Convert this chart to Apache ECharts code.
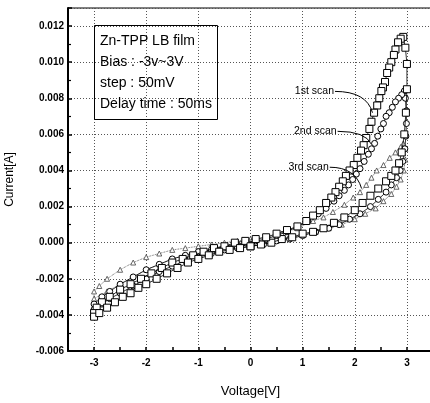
<!DOCTYPE html>
<html>
<head>
<meta charset="utf-8">
<script src="https://cdn.jsdelivr.net/npm/echarts@6/dist/echarts.min.js"></script>
<style>
  html, body { margin: 0; padding: 0; background: #fff; }
  #main { width: 430px; height: 403px; }
</style>
</head>
<body>
<div id="main"></div>
<script>
// 1st scan (squares): lower branch 0 -> 3 V, upper branch back, then the negative loop
const scan1V = [
  0.0, 0.2, 0.4, 0.6, 0.8, 1.0, 1.2, 1.4, 1.6, 1.8, 2.0, 2.15, 2.3, 2.45, 2.6, 2.7, 2.78, 2.85, 2.9, 2.95, 2.98, 3.0, 3.0, 2.97, 2.93,
  2.88, 2.83, 2.78, 2.75, 2.7, 2.66, 2.62, 2.58, 2.54, 2.51, 2.47, 2.43, 2.37, 2.32, 2.28, 2.22, 2.17, 2.12, 2.05, 1.98, 1.9, 1.83, 1.77, 1.7, 1.63, 1.55, 1.45, 1.33, 1.2, 1.07, 0.9, 0.7, 0.5, 0.3, 0.1,
  -0.1, -0.3, -0.5, -0.7, -0.9, -1.1, -1.3, -1.5, -1.7, -1.9, -2.1, -2.3, -2.5, -2.7, -2.85, -2.95, -3.0, -3.0,
  -2.9, -2.75, -2.6, -2.45, -2.3, -2.15, -2.0, -1.8, -1.6, -1.4, -1.2, -1.0, -0.8, -0.6, -0.4, -0.2, 0.0
];
const scan1I = [
  -0.0002, -0.0001, 0.0000, 0.0002, 0.0003, 0.0005, 0.0006, 0.0008, 0.0011, 0.0014, 0.0018, 0.0022, 0.0026, 0.0030, 0.0034, 0.0037, 0.0040, 0.0044, 0.0050, 0.0060, 0.0072, 0.0085, 0.0099, 0.0108, 0.0114,
  0.0113, 0.0111, 0.0107, 0.0104, 0.0100, 0.0097, 0.0094, 0.0089, 0.0086, 0.0084, 0.0080, 0.0076, 0.0072, 0.0067, 0.0063, 0.0058, 0.0054, 0.0051, 0.0047, 0.0043, 0.0040, 0.0037, 0.0034, 0.0031, 0.0028, 0.0025, 0.0022, 0.0018, 0.0015, 0.0012, 0.0009, 0.0007, 0.0005, 0.0003, 0.0002,
  0.0001, 0.0000, -0.0002, -0.0003, -0.0005, -0.0007, -0.0009, -0.0011, -0.0014, -0.0017, -0.0020, -0.0023, -0.0026, -0.0030, -0.0033, -0.0036, -0.0039, -0.0041,
  -0.0039, -0.0036, -0.0033, -0.0030, -0.0028, -0.0025, -0.0023, -0.0020, -0.0017, -0.0014, -0.0011, -0.0009, -0.0007, -0.0005, -0.0004, -0.0003, -0.0002
];

// 2nd scan (circles)
const scan2V = [
  0.0, 0.25, 0.5, 0.75, 1.0, 1.25, 1.5, 1.7, 1.9, 2.1, 2.3, 2.45, 2.6, 2.7, 2.8, 2.87, 2.92, 2.96, 2.98, 2.99, 2.99, 2.97, 2.95,
  2.9, 2.84, 2.78, 2.72, 2.66, 2.6, 2.55, 2.5, 2.44, 2.38, 2.32, 2.26, 2.18, 2.1, 2.03, 1.96, 1.88, 1.8, 1.7, 1.6, 1.45, 1.3, 1.1, 0.9, 0.7, 0.5, 0.3, 0.1,
  -0.1, -0.3, -0.5, -0.75, -1.0, -1.25, -1.5, -1.75, -2.0, -2.25, -2.5, -2.7, -2.85, -3.0, -3.0,
  -2.85, -2.7, -2.5, -2.25, -2.0, -1.75, -1.5, -1.25, -1.0, -0.75, -0.5, -0.25, 0.0
];
const scan2I = [
  -0.0002, -0.0001, 0.0001, 0.0002, 0.0004, 0.0006, 0.0008, 0.0010, 0.0013, 0.0016, 0.0020, 0.0024, 0.0028, 0.0032, 0.0036, 0.0040, 0.0045, 0.0052, 0.0059, 0.0066, 0.0073, 0.0080, 0.0084,
  0.0082, 0.0080, 0.0078, 0.0075, 0.0072, 0.0070, 0.0066, 0.0063, 0.0059, 0.0055, 0.0052, 0.0049, 0.0045, 0.0041, 0.0038, 0.0035, 0.0032, 0.0029, 0.0026, 0.0023, 0.0019, 0.0016, 0.0012, 0.0009, 0.0006, 0.0004, 0.0002, 0.0001,
  0.0000, -0.0001, -0.0002, -0.0004, -0.0005, -0.0007, -0.0009, -0.0012, -0.0015, -0.0019, -0.0023, -0.0027, -0.0030, -0.0034, -0.0037,
  -0.0034, -0.0031, -0.0028, -0.0024, -0.0020, -0.0016, -0.0013, -0.0010, -0.0008, -0.0006, -0.0004, -0.0003, -0.0002
];

// 3rd scan (small triangles)
const scan3V = [
  0.0, 0.25, 0.5, 0.75, 1.0, 1.25, 1.5, 1.75, 2.0, 2.2, 2.4, 2.55, 2.7, 2.8, 2.88, 2.94, 2.97, 2.97, 2.93,
  2.88, 2.78, 2.67, 2.55, 2.42, 2.32, 2.22, 2.1, 1.97, 1.8, 1.58, 1.4, 1.2, 0.9, 0.6, 0.3, 0.0,
  -0.25, -0.5, -0.75, -1.0, -1.25, -1.5, -1.75, -2.0, -2.25, -2.5, -2.75, -2.9, -3.0, -3.0,
  -2.75, -2.5, -2.25, -2.0, -1.75, -1.5, -1.25, -1.0, -0.75, -0.5, -0.25, 0.0
];
const scan3I = [
  -0.0001, 0.0000, 0.0001, 0.0003, 0.0004, 0.0006, 0.0008, 0.0010, 0.0013, 0.0016, 0.0019, 0.0023, 0.0027, 0.0031, 0.0035, 0.0040, 0.0046, 0.0052, 0.0055,
  0.0053, 0.0050, 0.0047, 0.0043, 0.0040, 0.0036, 0.0032, 0.0028, 0.0025, 0.0021, 0.0017, 0.0014, 0.0012, 0.0008, 0.0005, 0.0003, 0.0002,
  0.0001, 0.0000, -0.0001, -0.0002, -0.0003, -0.0004, -0.0006, -0.0008, -0.0011, -0.0015, -0.0020, -0.0024, -0.0027, -0.0031,
  -0.0027, -0.0023, -0.0019, -0.0015, -0.0012, -0.0009, -0.0007, -0.0005, -0.0003, -0.0002, -0.0001, -0.0001
];

const infoLines = ['Zn-TPP LB film', 'Bias : -3v~3V', 'step : 50mV', 'Delay time : 50ms'];
const scanNames = ['1st scan', '2nd scan', '3rd scan'];

const pairs = (xs, ys) => xs.map((x, i) => [x, ys[i]]);
const FONT = 'Liberation Sans, Arial, sans-serif';

const chartDom = document.getElementById('main');
const myChart = echarts.init(chartDom);

const option = {
  animation: false,
  backgroundColor: '#fff',
  textStyle: { fontFamily: FONT },
  title: {
    text: infoLines.join('\n'),
    left: 94,
    top: 25,
    borderColor: '#000',
    borderWidth: 1,
    padding: [6, 6, 5, 6],
    textStyle: { fontSize: 14, fontWeight: 'normal', color: '#000', lineHeight: 21, fontFamily: FONT }
  },
  grid: {
    left: 68, right: -3, top: 8, bottom: 52,
    outerBoundsMode: 'none',
    containLabel: false,
    show: true, borderColor: '#000', borderWidth: 1
  },
  xAxis: {
    type: 'value',
    min: -3.5, max: 3.5, interval: 0.5,
    name: 'Voltage[V]',
    nameLocation: 'middle',
    nameGap: 34,
    nameTextStyle: { fontSize: 13, color: '#000', fontFamily: FONT },
    axisLine: { show: true, onZero: false, lineStyle: { color: '#000', width: 2 } },
    axisTick: { show: true, inside: true, length: 4, lineStyle: { color: '#000', width: 1.5 } },
    axisLabel: {
      color: '#000', fontSize: 10, fontWeight: 'bold', margin: 7, fontFamily: FONT,
      formatter: (v) => (Math.abs(v - Math.round(v)) < 1e-6 ? String(Math.round(v)) : '')
    },
    splitLine: {
      show: true,
      lineStyle: { color: ['transparent', '#555'], type: [1, 2], width: 1 }
    }
  },
  yAxis: {
    type: 'value',
    min: -0.006, max: 0.013, interval: 0.002,
    name: 'Current[A]',
    nameLocation: 'middle',
    nameGap: 52,
    nameTextStyle: { fontSize: 12, color: '#000', fontFamily: FONT },
    axisLine: { show: true, onZero: false, lineStyle: { color: '#000', width: 2 } },
    axisTick: { show: true, inside: true, length: 4, lineStyle: { color: '#000', width: 1.5 } },
    minorTick: { show: true, splitNumber: 2, length: 3, lineStyle: { color: '#000', width: 1.2 } },
    axisLabel: {
      color: '#000', fontSize: 10, fontWeight: 'bold', margin: 4, fontFamily: FONT,
      formatter: (v) => {
        const k = v / 0.002;
        return Math.abs(k - Math.round(k)) < 1e-6 ? v.toFixed(3) : '';
      }
    },
    splitLine: { show: true, lineStyle: { color: '#555', type: [1, 2], width: 1 } }
  },
  series: [
    {
      name: scanNames[2],
      type: 'line',
      data: pairs(scan3V, scan3I),
      symbol: 'triangle',
      symbolSize: 5,
      showAllSymbol: true,
      z: 2,
      itemStyle: { color: '#fff', borderColor: '#444', borderWidth: 0.8 },
      lineStyle: { color: '#444', width: 0.8, type: 'dotted' }
    },
    {
      name: scanNames[1],
      type: 'line',
      data: pairs(scan2V, scan2I),
      symbol: 'circle',
      symbolSize: 6,
      showAllSymbol: true,
      z: 3,
      itemStyle: { color: '#fff', borderColor: '#000', borderWidth: 1 },
      lineStyle: { color: '#000', width: 0.8 }
    },
    {
      name: scanNames[0],
      type: 'line',
      data: pairs(scan1V, scan1I),
      symbol: 'rect',
      symbolSize: 7,
      showAllSymbol: true,
      z: 4,
      itemStyle: { color: '#fff', borderColor: '#000', borderWidth: 1 },
      lineStyle: { color: '#000', width: 0.8 }
    }
  ]
};

myChart.setOption(option);

// scan labels with curved leader lines, anchored in data units
const leaders = [
  { text: scanNames[0], from: [1.62, 0.00838], to: [2.34, 0.0072] },
  { text: scanNames[1], from: [1.67, 0.00617], to: [2.32, 0.00545] },
  { text: scanNames[2], from: [1.52, 0.00418], to: [2.13, 0.0030] }
];
const graphics = [];
leaders.forEach((l) => {
  const a = myChart.convertToPixel({ gridIndex: 0 }, l.from);
  const b = myChart.convertToPixel({ gridIndex: 0 }, l.to);
  graphics.push({
    type: 'bezierCurve',
    shape: { x1: a[0], y1: a[1], x2: b[0], y2: b[1], cpx1: b[0] - 6, cpy1: a[1] },
    style: { stroke: '#000', lineWidth: 1, fill: null },
    z: 10
  });
  graphics.push({
    type: 'text',
    x: a[0] - 1,
    y: a[1],
    style: { text: l.text, font: '10.5px ' + FONT, fill: '#000', align: 'right', verticalAlign: 'middle' },
    z: 10
  });
});
myChart.setOption({ graphic: graphics });
</script>
</body>
</html>
